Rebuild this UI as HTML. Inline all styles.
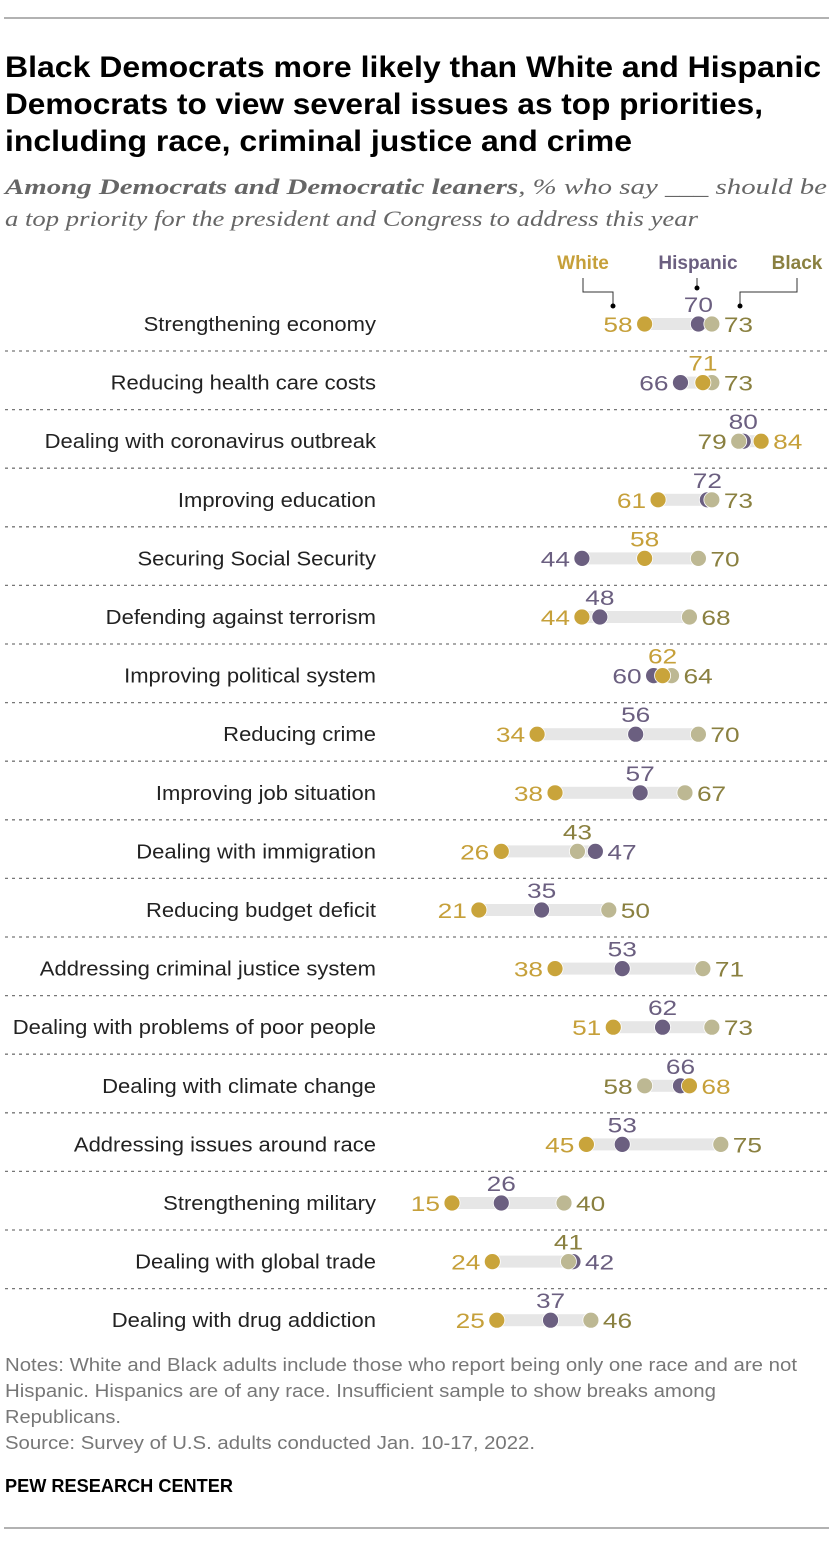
<!DOCTYPE html>
<html><head><meta charset="utf-8"><style>
html,body{margin:0;padding:0;background:#fff;}
svg{display:block;font-family:"Liberation Sans",sans-serif;}
</style></head><body>
<svg id="chart" width="840" height="1544" viewBox="0 0 840 1544" xmlns="http://www.w3.org/2000/svg">
<line x1="4" y1="18" x2="829" y2="18" stroke="#999" stroke-width="1.5"/>
<g font-weight="bold" font-size="30" fill="#000">
<text x="5" y="77" textLength="816" lengthAdjust="spacingAndGlyphs">Black Democrats more likely than White and Hispanic</text>
<text x="5" y="114" textLength="758" lengthAdjust="spacingAndGlyphs">Democrats to view several issues as top priorities,</text>
<text x="5" y="151" textLength="627" lengthAdjust="spacingAndGlyphs">including race, criminal justice and crime</text>
</g>
<g font-family="Liberation Serif, serif" font-style="italic" font-size="22" fill="#666">
<text x="5" y="194" textLength="822" lengthAdjust="spacingAndGlyphs"><tspan font-weight="bold">Among Democrats and Democratic leaners</tspan>, % who say ___ should be</text>
<text x="5" y="226" textLength="693" lengthAdjust="spacingAndGlyphs">a top priority for the president and Congress to address this year</text>
</g>
<g font-weight="bold" font-size="19">
<text x="583" y="269" text-anchor="middle" fill="#c6a03a">White</text>
<text x="698" y="269" text-anchor="middle" fill="#6b5f80">Hispanic</text>
<text x="797" y="269" text-anchor="middle" fill="#8a8040">Black</text>
<polyline points="583,278 583,292 613,292 613,306" fill="none" stroke="#333" stroke-width="1"/>
<circle cx="613" cy="306" r="2.5" fill="#000"/>
<line x1="697" y1="278" x2="697" y2="288" stroke="#333"/>
<circle cx="697" cy="288" r="2.5" fill="#000"/>
<polyline points="797,278 797,292 740,292 740,306" fill="none" stroke="#333" stroke-width="1"/>
<circle cx="740" cy="306" r="2.5" fill="#000"/>
</g>
<g id="rows"></g>
<g font-size="18" fill="#777">
<text x="5" y="1371" textLength="792" lengthAdjust="spacingAndGlyphs">Notes: White and Black adults include those who report being only one race and are not</text>
<text x="5" y="1397" textLength="711" lengthAdjust="spacingAndGlyphs">Hispanic. Hispanics are of any race. Insufficient sample to show breaks among</text>
<text x="5" y="1423" textLength="116" lengthAdjust="spacingAndGlyphs">Republicans.</text>
<text x="5" y="1449" textLength="530" lengthAdjust="spacingAndGlyphs">Source: Survey of U.S. adults conducted Jan. 10-17, 2022.</text>
</g>
<text x="5" y="1492" font-size="18" font-weight="bold" fill="#000" textLength="228" lengthAdjust="spacingAndGlyphs">PEW RESEARCH CENTER</text>
<line x1="4" y1="1528" x2="829" y2="1528" stroke="#999" stroke-width="1.5"/>
</svg>
<script>
const categories=["Strengthening economy","Reducing health care costs","Dealing with coronavirus outbreak","Improving education","Securing Social Security","Defending against terrorism","Improving political system","Reducing crime","Improving job situation","Dealing with immigration","Reducing budget deficit","Addressing criminal justice system","Dealing with problems of poor people","Dealing with climate change","Addressing issues around race","Strengthening military","Dealing with global trade","Dealing with drug addiction"];
const whiteVals=[58,71,84,61,58,44,62,34,38,26,21,38,51,68,45,15,24,25];
const hispanicVals=[70,66,80,72,44,48,60,56,57,47,35,53,62,66,53,26,42,37];
const blackVals=[73,73,79,73,70,68,64,70,67,43,50,71,73,58,75,40,41,46];
const NS="http://www.w3.org/2000/svg";
const x=v=>384.8+v*4.48;
const y=i=>324+i*58.6;
const g=document.getElementById('rows');
function mk(tag,attrs){const e=document.createElementNS(NS,tag);for(const k in attrs)e.setAttribute(k,attrs[k]);g.appendChild(e);return e;}
function stretch(t,f){const w=t.getComputedTextLength();t.setAttribute('textLength',(w*f).toFixed(1));t.setAttribute('lengthAdjust','spacingAndGlyphs');}
const series=[
 {key:'hispanic',vals:hispanicVals,fill:'#6b5f80',txt:'#6b5f80'},
 {key:'black',vals:blackVals,fill:'#bdb893',txt:'#8a8040'},
 {key:'white',vals:whiteVals,fill:'#c9a43b',txt:'#c6a03a'}];
categories.forEach((c,i)=>{
 const cy=y(i);
 const lab=mk('text',{x:376,y:cy+7,'text-anchor':'end','font-size':20,fill:'#222'});
 lab.textContent=c;
 
 
 stretch(lab,1.1);
 if(i<categories.length-1){
  const sep=mk('line',{x1:5,x2:829,y1:cy+27,y2:cy+27,stroke:'#777','stroke-width':1.3,'stroke-dasharray':'3,4'});
  
  
 }
 const vals=series.map(s=>s.vals[i]);
 const mn=Math.min(...vals),mx=Math.max(...vals);
 const bar=mk('rect',{x:x(mn),y:cy-6,width:x(mx)-x(mn),height:12,fill:'#e6e6e6'});
 
 
 series.forEach(s=>{
  const d=mk('circle',{cx:x(s.vals[i]),cy:cy,r:8,fill:s.fill,stroke:'#fff','stroke-width':0.8});
  
  
 });
 const order=series.map((s,k)=>({s,v:s.vals[i],k})).sort((a,b)=>a.v-b.v||a.k-b.k);
 order.forEach((o,pos)=>{
  let attrs;
  if(pos===0)attrs={x:x(o.v)-12,y:cy+8,'text-anchor':'end'};
  else if(pos===2)attrs={x:x(o.v)+12,y:cy+8,'text-anchor':'start'};
  else attrs={x:x(o.v),y:cy-12,'text-anchor':'middle'};
  attrs['font-size']=21;attrs.fill=o.s.txt;
  const t=mk('text',attrs);
  t.textContent=o.v;
  
  
  stretch(t,1.25);
 });
});
</script>
</body></html>
